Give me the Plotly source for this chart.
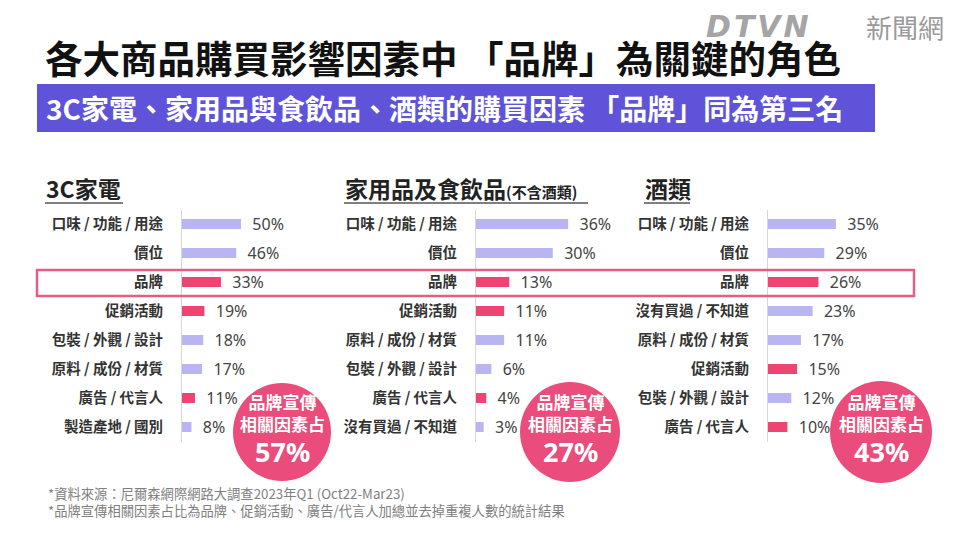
import plotly.graph_objects as go

# page has an 8px body margin; figure is sized to fit the 959x540 window
OFF = 8
W, H = 959 - OFF, 540 - OFF

# ---------------- data ----------------
cats_3c = ["口味 / 功能 / 用途", "價位", "品牌", "促銷活動", "包裝 / 外觀 / 設計",
           "原料 / 成份 / 材質", "廣告 / 代言人", "製造產地 / 國別"]
vals_3c = [50, 46, 33, 19, 18, 17, 11, 8]

cats_home = ["口味 / 功能 / 用途", "價位", "品牌", "促銷活動", "原料 / 成份 / 材質",
             "包裝 / 外觀 / 設計", "廣告 / 代言人", "沒有買過 / 不知道"]
vals_home = [36, 30, 13, 11, 11, 6, 4, 3]

cats_alc = ["口味 / 功能 / 用途", "價位", "品牌", "沒有買過 / 不知道", "原料 / 成份 / 材質",
            "促銷活動", "包裝 / 外觀 / 設計", "廣告 / 代言人"]
vals_alc = [35, 29, 26, 23, 17, 15, 12, 10]

panel_titles = ["3C家電", "家用品及食飲品", "酒類"]
panel_title_note = "(不含酒類)"
brand_share = [57, 27, 43]
brand_factors = ["品牌", "促銷活動", "廣告 / 代言人"]
circle_caption = ["品牌宣傳", "相關因素占"]

title_text = "各大商品購買影響因素中 「品牌」為關鍵的角色"
subtitle_text = "3C家電、家用品與食飲品、酒類的購買因素 「品牌」同為第三名"
footnotes = ["*資料來源：尼爾森網際網路大調查2023年Q1 (Oct22-Mar23)",
             "*品牌宣傳相關因素占比為品牌、促銷活動、廣告/代言人加總並去掉重複人數的統計結果"]

# ---------------- style ----------------
CJK = "Noto Sans CJK TC"
PINK = "#ee4471"
LAV = "#b9b5f2"
CIRCLE = "#ea4c7b"
BANNER = "#5f53d9"

panels = [(cats_3c, vals_3c), (cats_home, vals_home), (cats_alc, vals_alc)]
axis_px = [182, 476, 768]
px_per = [1.18, 2.56, 1.94]
rng_max = [60, 40, 40]
circle_c = [(282, 432), (570, 432), (881, 432)]
circle_r = [49, 50, 51]

row_top, row_bot = 209.5, 441.5

def px(x):
    return (x - OFF) / W

def py(y):
    return 1 - (y - OFF) / H

fig = go.Figure()
layout = dict(width=W, height=H, margin=dict(l=0, r=0, t=0, b=0),
              paper_bgcolor="white", plot_bgcolor="white", showlegend=False,
              bargap=0.655)

for i, (cats, vals) in enumerate(panels):
    n = "" if i == 0 else str(i + 1)
    colors = [PINK if c in brand_factors else LAV for c in cats]
    fig.add_trace(go.Bar(
        x=vals, y=cats, orientation="h",
        marker=dict(color=colors, line=dict(width=0)),
        text=["\u00a0\u00a0" + f"{v}%" for v in vals],
        textposition="outside", constraintext="none", cliponaxis=False,
        textfont=dict(family="Noto Sans", size=16, color="#444444"),
        xaxis="x" + n, yaxis="y" + n, hoverinfo="skip",
    ))
    x0 = axis_px[i]
    x1 = x0 + rng_max[i] * px_per[i]
    layout["xaxis" + n] = dict(domain=[px(x0), px(x1)], range=[0, rng_max[i]],
                               visible=False, anchor="y" + n)
    layout["yaxis" + n] = dict(domain=[py(row_bot), py(row_top)], type="category",
                               categoryorder="array", categoryarray=cats,
                               range=[len(cats) - 0.5, -0.5], anchor="x" + n,
                               showline=True, linecolor="#d6d6d6", linewidth=1,
                               showgrid=False, zeroline=False, ticks="",
                               ticklabelstandoff=15,
                               tickfont=dict(family=CJK, size=14.5, color="#333333",
                                             weight="bold"))

shapes = []
annotations = []

# banner
shapes.append(dict(type="rect", xref="paper", yref="paper", x0=px(37), x1=px(875),
                   y0=py(132), y1=py(84), fillcolor=BANNER, line=dict(width=0), layer="below"))
# highlight rectangle
shapes.append(dict(type="rect", xref="paper", yref="paper", x0=px(37), x1=px(914),
                   y0=py(296), y1=py(270), fillcolor="rgba(0,0,0,0)",
                   line=dict(color="#e05f83", width=2.5)))
# circles
for (cx, cy), r in zip(circle_c, circle_r):
    shapes.append(dict(type="circle", xref="paper", yref="paper",
                       x0=px(cx - r), x1=px(cx + r), y0=py(cy + r), y1=py(cy - r),
                       fillcolor=CIRCLE, line=dict(width=0)))

# panel title underlines
for (ux0, ux1) in [(45, 123), (344, 588), (644, 690)]:
    shapes.append(dict(type="line", xref="paper", yref="paper", x0=px(ux0), x1=px(ux1),
                       y0=py(203), y1=py(203), line=dict(color="#555555", width=1.5)))

def ann(text, x, y, size, color, xanchor="left", family=CJK):
    annotations.append(dict(text=text, xref="paper", yref="paper", x=px(x), y=py(y),
                            xanchor=xanchor, yanchor="middle", showarrow=False,
                            font=dict(family=family, size=size, color=color)))

# title and banner text
ann("<b>" + title_text + "</b>", 43, 57, 37.5, "#111111")
ann("<b>" + subtitle_text + "</b>", 44, 108, 28, "white")
# logo
ann("<b><i>D\u200aT\u200aV\u200aN</i></b>", 704, 26, 30, "#a5a5a5", family="DejaVu Sans")
ann("新聞網", 946, 27, 26, "#9a9a9a", xanchor="right")

# panel titles
ann("<b>" + panel_titles[0] + "</b>", 44, 188, 23, "#222222")
ann("<b>" + panel_titles[1] + "</b><b><span style='font-size:15px'>" + panel_title_note + "</span></b>",
    343, 188, 23, "#222222")
ann("<b>" + panel_titles[2] + "</b>", 643, 188, 23, "#222222")

# circle texts
for (cx, cy), share in zip(circle_c, brand_share):
    ann("<b>" + circle_caption[0] + "<br>" + circle_caption[1] + "</b>", cx, 412, 17,
        "white", xanchor="center")
    ann(f"<b>{share}%</b>", cx, 451, 27, "white", xanchor="center", family="Noto Sans")

# footnotes
for k, t in enumerate(footnotes):
    ann(t, 46, 493 + 17 * k, 13.3, "#808080")

layout["shapes"] = shapes
layout["annotations"] = annotations
fig.update_layout(**layout)
fig.write_html("out.html")
